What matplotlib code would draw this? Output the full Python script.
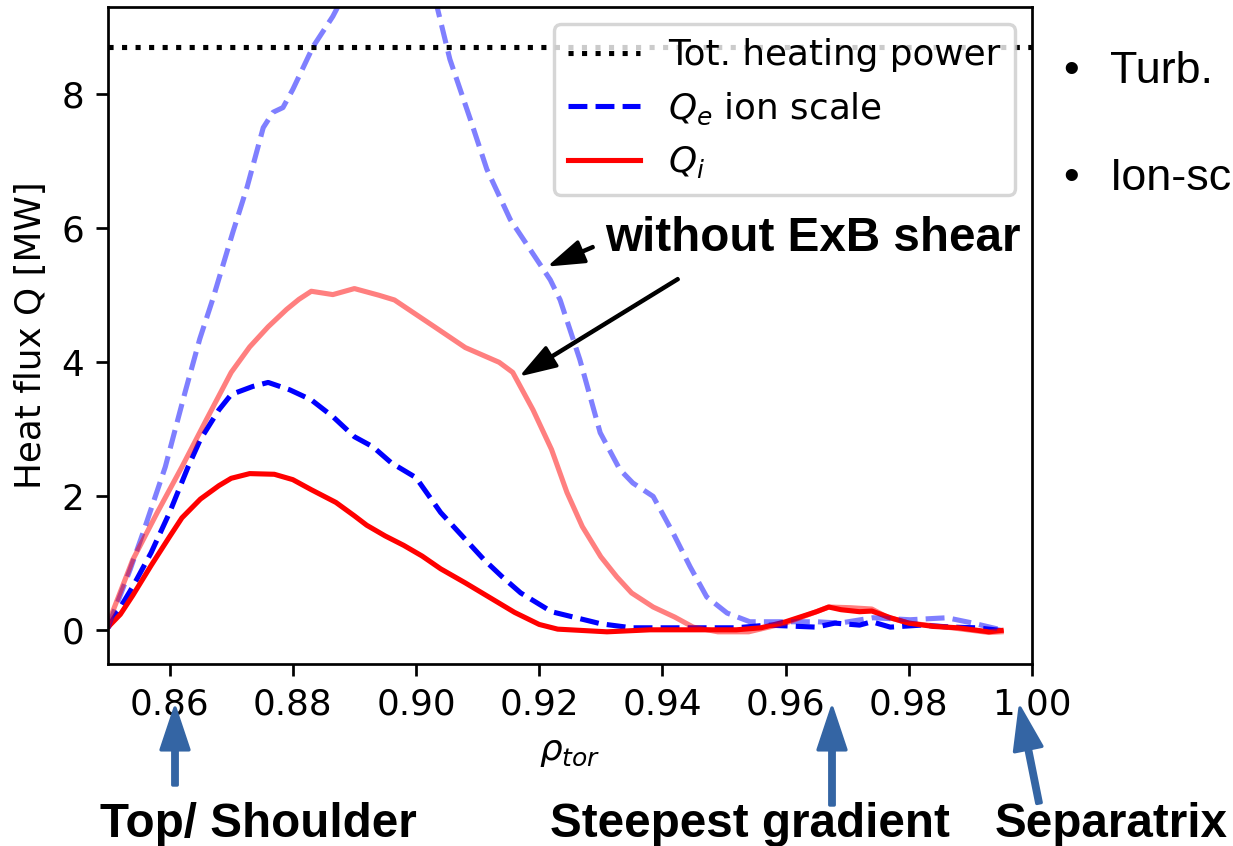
import matplotlib
matplotlib.use("Agg")
import matplotlib.pyplot as plt

# ---------------- data ----------------
heating_power = 8.7

rho_qi = [0.850, 0.852, 0.854, 0.857, 0.860, 0.862, 0.865, 0.868, 0.870, 0.873,
          0.877, 0.880, 0.883, 0.887, 0.890, 0.892, 0.895, 0.898, 0.901, 0.904,
          0.908, 0.912, 0.916, 0.920, 0.923, 0.927, 0.931, 0.938, 0.946, 0.952,
          0.956, 0.960, 0.965, 0.967, 0.969, 0.972, 0.974, 0.977, 0.980, 0.984,
          0.988, 0.993, 0.995]
qi = [0.05, 0.24, 0.52, 0.97, 1.40, 1.68, 1.96, 2.16, 2.27, 2.34,
      2.33, 2.25, 2.10, 1.91, 1.71, 1.57, 1.41, 1.27, 1.11, 0.92,
      0.71, 0.49, 0.27, 0.09, 0.02, 0.00, -0.02, 0.01, 0.01, 0.01,
      0.04, 0.13, 0.28, 0.35, 0.31, 0.28, 0.29, 0.19, 0.11, 0.06,
      0.04, -0.02, 0.00]

rho_qe = [0.850, 0.854, 0.857, 0.860, 0.863, 0.865, 0.868, 0.870, 0.8735, 0.876,
          0.8795, 0.883, 0.8865, 0.890, 0.893, 0.896, 0.900, 0.904, 0.907, 0.911,
          0.914, 0.917, 0.922, 0.926, 0.930, 0.935, 0.943, 0.952, 0.957, 0.965,
          0.968, 0.972, 0.974, 0.977, 0.982, 0.987, 0.991, 0.995]
qe = [0.04, 0.65, 1.16, 1.76, 2.44, 2.85, 3.29, 3.52, 3.64, 3.70,
      3.59, 3.44, 3.19, 2.89, 2.74, 2.50, 2.28, 1.76, 1.46, 1.06,
      0.80, 0.56, 0.28, 0.19, 0.10, 0.04, 0.04, 0.04, 0.08, 0.05,
      0.11, 0.08, 0.13, 0.05, 0.08, 0.05, 0.04, 0.00]

rho_qi_noshear = [0.850, 0.854, 0.858, 0.862, 0.866, 0.870, 0.873, 0.876, 0.879, 0.881,
                  0.883, 0.8865, 0.890, 0.894, 0.8965, 0.903, 0.908, 0.9135, 0.9157, 0.919,
                  0.922, 0.9245, 0.927, 0.930, 0.9326, 0.935, 0.9385, 0.942, 0.945, 0.949,
                  0.954, 0.960, 0.965, 0.967, 0.9705, 0.974, 0.9765, 0.980, 0.987, 0.993,
                  0.995]
qi_noshear = [0.10, 1.05, 1.76, 2.44, 3.15, 3.85, 4.23, 4.53, 4.79, 4.94,
              5.06, 5.01, 5.10, 5.00, 4.93, 4.53, 4.22, 4.00, 3.85, 3.29,
              2.70, 2.06, 1.55, 1.10, 0.80, 0.56, 0.35, 0.20, 0.05, -0.02,
              -0.02, 0.11, 0.28, 0.35, 0.34, 0.32, 0.20, 0.11, 0.04, -0.03,
              -0.02]

rho_qe_noshear = [0.850, 0.8536, 0.8557, 0.8593, 0.8625, 0.8649, 0.867, 0.8703, 0.8726, 0.8752,
                  0.8768, 0.8784, 0.880, 0.8833, 0.8865, 0.889, 0.892, 0.895, 0.898, 0.901,
                  0.9034, 0.9055, 0.9088, 0.9115, 0.9153, 0.9218, 0.9234, 0.9266, 0.9299, 0.9331,
                  0.9352, 0.9385, 0.9417, 0.9445, 0.9472, 0.9505, 0.9542, 0.9596, 0.9651, 0.9688,
                  0.9742, 0.9802, 0.9862, 0.9904, 0.995]
qe_noshear = [0.05, 0.91, 1.46, 2.44, 3.55, 4.35, 4.94, 5.95, 6.62, 7.50,
              7.73, 7.80, 8.07, 8.71, 9.16, 9.6, 10.1, 10.3, 10.2, 9.9,
              9.31, 8.52, 7.63, 6.88, 6.13, 5.23, 4.93, 4.04, 2.95, 2.40,
              2.20, 2.00, 1.46, 0.95, 0.50, 0.26, 0.13, 0.13, 0.13, 0.11,
              0.19, 0.16, 0.19, 0.11, 0.01]

legend_labels = ["Tot. heating power", "$Q_e$ ion scale", "$Q_i$"]
marker_labels = ["Top/ Shoulder", "Steepest gradient", "Separatrix"]
bullet_texts = ["Turb.", "Ion-sc"]

# ---------------- figure ----------------
W, H, DPI = 1233, 846, 245
plt.rcParams["font.size"] = 10.5
fig = plt.figure(figsize=(W / DPI, H / DPI), dpi=DPI)
ax = fig.add_axes([108 / W, 1 - 664 / H, (1032 - 108) / W, (664 - 7) / H])

ax.axhline(heating_power, color="k", ls=":", lw=1.5, label=legend_labels[0])
ax.plot(rho_qe, qe, "b--", lw=1.5, label=legend_labels[1])
ax.plot(rho_qi, qi, "r-", lw=1.5, label=legend_labels[2])
ax.plot(rho_qe_noshear, qe_noshear, "b--", lw=1.5, alpha=0.5)
ax.plot(rho_qi_noshear, qi_noshear, "r-", lw=1.5, alpha=0.5)

ax.set_xlim(0.85, 1.0)
ax.set_ylim(-0.5, 9.3)
ax.set_xlabel(r"$\rho_{tor}$")
ax.set_ylabel("Heat flux Q [MW]")
ax.legend(loc="upper right", borderaxespad=0.48)

# black annotation arrows ("without ExB shear")
black_arrow = dict(facecolor="black", edgecolor="black", width=0.3,
                   headwidth=6.2, headlength=9.5, shrink=0)
ax.annotate("", xy=(0.9221, 5.46), xycoords="data",
            xytext=(593, H - 247), textcoords="figure pixels",
            arrowprops=black_arrow, annotation_clip=False)
ax.annotate("", xy=(0.9175, 3.83), xycoords="data",
            xytext=(678, H - 279), textcoords="figure pixels",
            arrowprops=black_arrow, annotation_clip=False)
fig.text(605 / W, (H - 251) / H, "without ExB shear", fontsize=14,
         fontweight="bold", family="Liberation Sans", va="baseline", ha="left")

# blue marker arrows below the axis
blue = "#3465a4"
blue_arrow = dict(facecolor=blue, edgecolor=blue, width=1.3,
                  headwidth=8.2, headlength=12.3, shrink=0)
arrows = [((175, H - 708), (175, H - 785)),
          ((832, H - 708), (832, H - 805)),
          ((1020, H - 708), (1039, H - 803))]
for tip, tail in arrows:
    ax.annotate("", xy=tip, xycoords="figure pixels", xytext=tail,
                textcoords="figure pixels", arrowprops=blue_arrow,
                annotation_clip=False)

for x0, lab in zip([100, 550, 995], marker_labels):
    fig.text(x0 / W, (H - 837) / H, lab, fontsize=14, fontweight="bold",
             family="Liberation Sans", va="baseline", ha="left")

# slide bullet text on the right
for yb, t in zip([83, 190], bullet_texts):
    fig.text(1063 / W, (H - yb) / H, "\u2022", fontsize=13.2,
             family="Liberation Sans", va="baseline", ha="left")
    fig.text(1110 / W, (H - yb) / H, t, fontsize=13.2,
             family="Liberation Sans", va="baseline", ha="left")

fig.savefig("out.png", dpi=DPI)
